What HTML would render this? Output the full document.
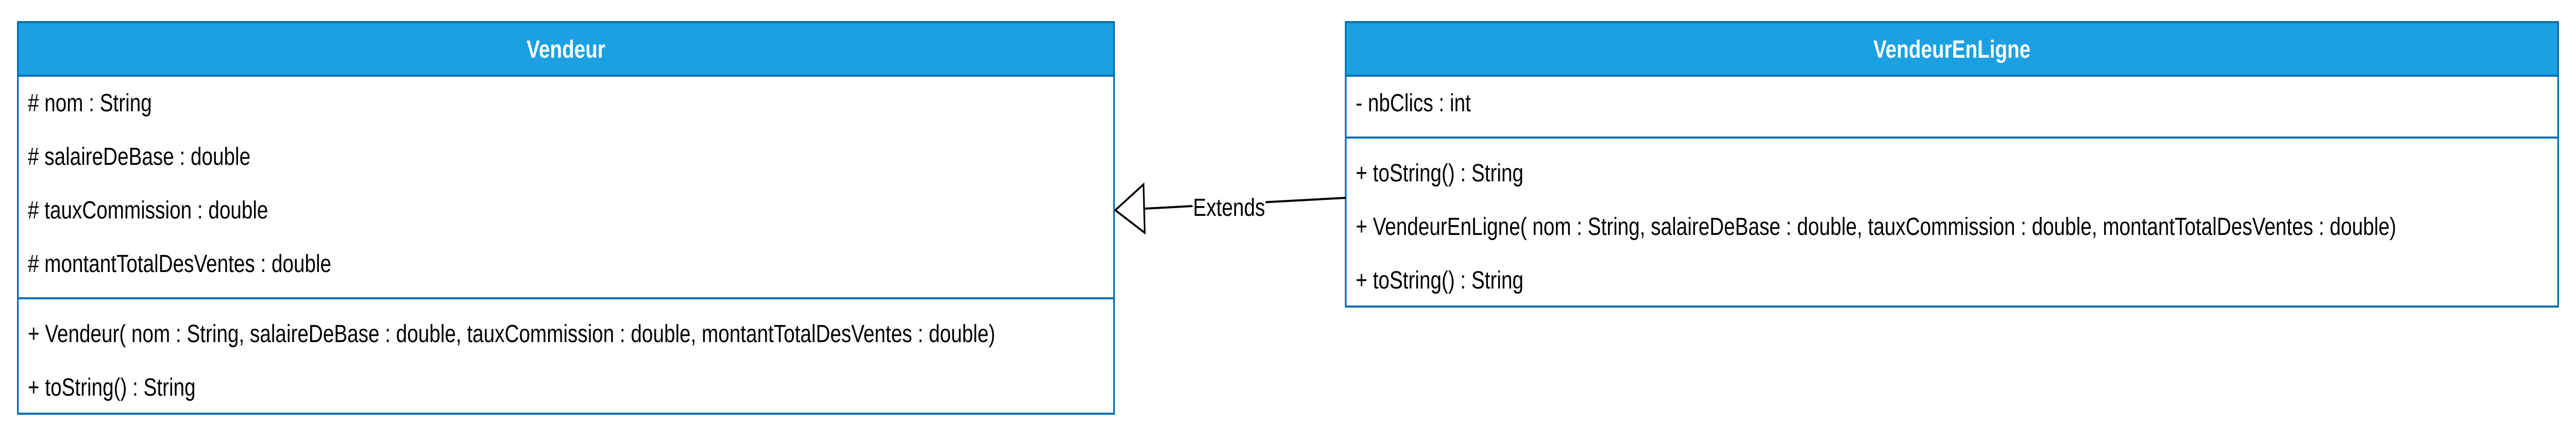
<!DOCTYPE html>
<html><head><meta charset="utf-8"><style>
html,body{margin:0;padding:0;background:#fff;width:100vw;height:100vh;overflow:hidden;}
svg{display:block;width:100vw;height:100vh;}
text{font-family:"Liberation Sans",Arial,sans-serif;font-size:48px;fill:#000;}
</style></head><body>
<svg viewBox="0 0 6204 856" preserveAspectRatio="none" xmlns="http://www.w3.org/2000/svg">
<rect x="0" y="0" width="6204" height="856" fill="#fff"/>
<!-- Vendeur -->
<rect x="43" y="43" width="2640" height="760" fill="#fff" stroke="#006eaf" stroke-width="4"/>
<rect x="43" y="43" width="2640" height="104" fill="#1ba1e2" stroke="#006eaf" stroke-width="4"/>
<text x="1363" y="112" text-anchor="middle" font-weight="bold" style="fill:#fff">Vendeur</text>
<text x="67" y="216"># nom : String</text>
<text x="67" y="320"># salaireDeBase : double</text>
<text x="67" y="424"># tauxCommission : double</text>
<text x="67" y="528"># montantTotalDesVentes : double</text>
<line x1="43" y1="579" x2="2683" y2="579" stroke="#006eaf" stroke-width="4"/>
<text x="67" y="664">+ Vendeur( nom : String, salaireDeBase : double, tauxCommission : double,  montantTotalDesVentes : double)</text>
<text x="67" y="768">+ toString() : String</text>
<!-- VendeurEnLigne -->
<rect x="3241" y="43" width="2920" height="552" fill="#fff" stroke="#006eaf" stroke-width="4"/>
<rect x="3241" y="43" width="2920" height="104" fill="#1ba1e2" stroke="#006eaf" stroke-width="4"/>
<text x="4701" y="112" text-anchor="middle" font-weight="bold" style="fill:#fff">VendeurEnLigne</text>
<text x="3265" y="216">- nbClics : int</text>
<line x1="3241" y1="267" x2="6161" y2="267" stroke="#006eaf" stroke-width="4"/>
<text x="3265" y="352">+ toString() : String</text>
<text x="3265" y="456">+ VendeurEnLigne( nom : String, salaireDeBase : double, tauxCommission : double,  montantTotalDesVentes : double)</text>
<text x="3265" y="560">+ toString() : String</text>
<!-- connector -->
<line x1="3241" y1="384" x2="2756" y2="405" stroke="#000" stroke-width="4"/>
<polygon points="2686,408 2754,358 2757,452" fill="#fff" stroke="#000" stroke-width="4"/>
<rect x="2872" y="372" width="176" height="56" fill="#fff"/>
<text x="2960" y="419" text-anchor="middle">Extends</text>
</svg>
</body></html>
